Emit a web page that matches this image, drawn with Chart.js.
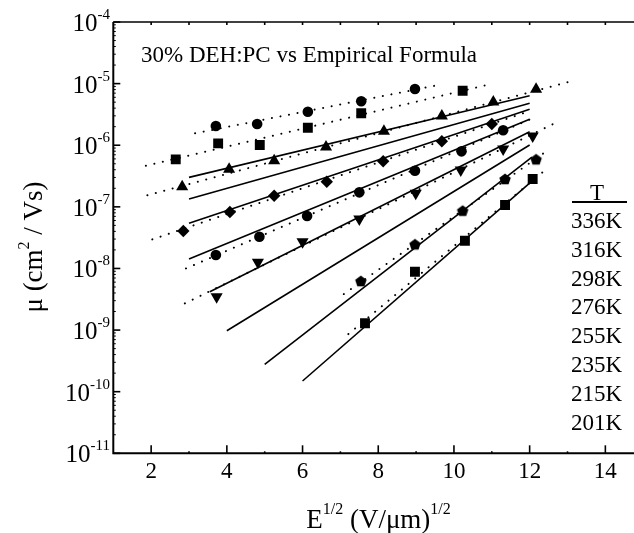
<!DOCTYPE html>
<html>
<head>
<meta charset="utf-8">
<script src="https://cdn.jsdelivr.net/npm/chart.js@4/dist/chart.umd.min.js"></script>
<style>
html,body{margin:0;padding:0;background:#fff;overflow:hidden;width:634px;height:533px;}
#wrap{width:660px;height:533px;}
</style>
</head>
<body>
<div id="wrap"><canvas id="c" width="660" height="533"></canvas></div>
<script>
// ---- data ----
const temps = ['336K','316K','298K','276K','255K','235K','215K','201K'];

const x336 = [3.71, 4.80, 6.14, 7.55, 8.97];
const y336 = [2.05e-6, 2.21e-6, 3.5e-6, 5.16e-6, 8.17e-6];
const x316 = [2.65, 3.77, 4.87, 6.14, 7.55, 10.23];
const y316 = [5.9e-7, 1.07e-6, 1.01e-6, 1.92e-6, 3.3e-6, 7.67e-6];
const x298 = [2.82, 4.06, 5.25, 6.62, 8.15, 9.68, 11.04, 12.17];
const y298 = [2.12e-7, 4.06e-7, 5.6e-7, 9.35e-7, 1.68e-6, 2.98e-6, 5.03e-6, 8.07e-6];
const x276 = [2.85, 4.08, 5.25, 6.64, 8.13, 9.68, 11.0];
const y276 = [4.05e-8, 8.24e-8, 1.51e-7, 2.55e-7, 5.48e-7, 1.16e-6, 2.21e-6];
const x255 = [3.71, 4.86, 6.12, 7.50, 8.97, 10.20, 11.30];
const y255 = [1.65e-8, 3.27e-8, 7.1e-8, 1.72e-7, 3.85e-7, 7.96e-7, 1.75e-6];
const x235 = [3.73, 4.82, 6.00, 7.50, 8.99, 10.18, 11.30, 12.08];
const y235 = [3.47e-9, 1.26e-8, 2.71e-8, 6.34e-8, 1.66e-7, 3.96e-7, 8.68e-7, 1.41e-6];
const x215 = [7.54, 8.97, 10.23, 11.35, 12.17];
const y215 = [6.24e-9, 2.46e-8, 8.65e-8, 2.83e-7, 5.9e-7];
const x201 = [7.65, 8.97, 10.29, 11.35, 12.08];
const y201 = [1.29e-9, 8.85e-9, 2.82e-8, 1.07e-7, 2.83e-7];

// dotted fits to the data (one per temperature)
const dotStartX = [3.16, 1.86, 1.90, 2.03, 2.92, 2.89, 7.09, 7.21];
const dotStartY = [1.56e-6, 4.65e-7, 1.54e-7, 2.96e-8, 1.0e-8, 2.71e-9, 3.84e-9, 8.61e-10];
const dotEndX   = [9.50, 10.87, 13.11, 12.0, 12.06, 12.80, 12.49, 12.36];
const dotEndY   = [9.25e-6, 9.48e-6, 1.10e-5, 3.59e-6, 2.71e-6, 2.50e-6, 8.36e-7, 3.72e-7];

// solid lines: empirical formula
const solStartX = [3.0, 3.0, 3.0, 3.0, 3.55, 4.0, 5.0, 6.0];
const solStartY = [3.01e-7, 1.34e-7, 5.40e-8, 1.42e-8, 4.19e-9, 9.75e-10, 2.77e-10, 1.49e-10];
const solEndX   = [12.0, 12.0, 12.0, 12.0, 12.0, 12.0, 12.06, 12.06];
const solEndY   = [6.37e-6, 4.79e-6, 3.83e-6, 2.63e-6, 1.66e-6, 1.01e-6, 6.43e-7, 2.62e-7];

const xTicks = [2, 4, 6, 8, 10, 12, 14];
const yExps = [-4, -5, -6, -7, -8, -9, -10, -11];

// ---- pentagon marker ----
function pentagon(r) {
  const c = document.createElement('canvas');
  const s = Math.ceil(2 * r + 2);
  c.width = s; c.height = s;
  const g = c.getContext('2d');
  g.fillStyle = '#000';
  g.beginPath();
  for (let i = 0; i < 5; i++) {
    const a = -Math.PI / 2 + i * 2 * Math.PI / 5;
    const px = s / 2 + r * Math.cos(a), py = s / 2 + r * Math.sin(a) + 0.5;
    i ? g.lineTo(px, py) : g.moveTo(px, py);
  }
  g.closePath(); g.fill();
  return c;
}

function pts(xs, ys) { return xs.map((v, i) => ({x: v, y: ys[i]})); }

const markerSets = [
  [x336, y336, 'circle', 5.3, 0],
  [x316, y316, 'rect', 7, 0],
  [x298, y298, 'triangle', 7, 0],
  [x276, y276, 'rectRot', 6.2, 0],
  [x255, y255, 'circle', 5.3, 0],
  [x235, y235, 'triangle', 7, 180],
  [x215, y215, pentagon(6), 6, 0],
  [x201, y201, 'rect', 7, 0]
];

const datasets = [];
markerSets.forEach(([xs, ys, st, r, rot], i) => {
  datasets.push({
    label: temps[i], data: pts(xs, ys), showLine: false,
    pointStyle: st, pointRadius: r, pointRotation: rot,
    backgroundColor: '#000', borderColor: '#000', borderWidth: 0, order: 0
  });
});
temps.forEach((t, i) => {
  datasets.push({
    label: 'fit ' + t,
    data: [{x: dotStartX[i], y: dotStartY[i]}, {x: dotEndX[i], y: dotEndY[i]}],
    showLine: true, pointRadius: 0, borderColor: '#000', borderWidth: 2,
    borderDash: [0.1, 8.6], borderCapStyle: 'round', order: 1
  });
  datasets.push({
    label: 'formula ' + t,
    data: [{x: solStartX[i], y: solStartY[i]}, {x: solEndX[i], y: solEndY[i]}],
    showLine: true, pointRadius: 0, borderColor: '#000', borderWidth: 1.6, order: 1
  });
});

const SERIF = '"Liberation Serif", "DejaVu Serif", serif';

const decor = {
  id: 'decor',
  afterDraw(chart) {
    const {ctx, chartArea: a, scales: {x, y}} = chart;
    ctx.save();
    ctx.strokeStyle = '#000'; ctx.fillStyle = '#000';
    // frame
    ctx.lineWidth = 2;
    ctx.beginPath(); ctx.moveTo(a.left, a.top); ctx.lineTo(a.left, a.bottom); ctx.lineTo(a.right, a.bottom); ctx.stroke();
    ctx.lineWidth = 1.5;
    ctx.beginPath(); ctx.moveTo(a.left, a.top); ctx.lineTo(a.right, a.top); ctx.stroke();
    // x ticks
    ctx.lineWidth = 1.6;
    for (let v = 2; v <= 14; v++) {
      const px = x.getPixelForValue(v);
      const len = v % 2 === 0 ? 8 : 2;
      ctx.beginPath(); ctx.moveTo(px, a.bottom); ctx.lineTo(px, a.bottom - len); ctx.stroke();
      ctx.beginPath(); ctx.moveTo(px, a.top); ctx.lineTo(px, a.top + 3); ctx.stroke();
    }
    // y ticks
    for (let e = -11; e <= -4; e++) {
      const py = y.getPixelForValue(Math.pow(10, e));
      ctx.lineWidth = 1.6;
      ctx.beginPath(); ctx.moveTo(a.left, py); ctx.lineTo(a.left + 7, py); ctx.stroke();
      if (e < -4) {
        ctx.lineWidth = 1;
        for (let m = 2; m <= 9; m++) {
          const q = y.getPixelForValue(m * Math.pow(10, e));
          ctx.beginPath(); ctx.moveTo(a.left, q); ctx.lineTo(a.left + 2.5, q); ctx.stroke();
        }
      }
    }
    // x tick labels
    ctx.font = '23px ' + SERIF; ctx.textAlign = 'center'; ctx.textBaseline = 'middle';
    xTicks.forEach(v => ctx.fillText(String(v), x.getPixelForValue(v), 472));
    // y tick labels 10^e
    yExps.forEach(e => {
      const py = y.getPixelForValue(Math.pow(10, e));
      const sup = '-' + String(-e);
      ctx.font = '15px ' + SERIF; const sw = ctx.measureText(sup).width;
      ctx.font = '25px ' + SERIF; const bw = ctx.measureText('10').width;
      const right = 110;
      ctx.textAlign = 'left'; ctx.textBaseline = 'alphabetic';
      ctx.fillText('10', right - sw - bw, py + 9);
      ctx.font = '15px ' + SERIF;
      ctx.fillText(sup, right - sw, py - 3);
    });
    // in-plot title
    ctx.font = '23px ' + SERIF; ctx.textAlign = 'left'; ctx.textBaseline = 'alphabetic';
    ctx.fillText('30% DEH:PC vs Empirical Formula', 141, 62);
    // T legend
    ctx.textAlign = 'center';
    ctx.fillText('T', 597, 200);
    ctx.lineWidth = 2;
    ctx.beginPath(); ctx.moveTo(572, 202); ctx.lineTo(627, 202); ctx.stroke();
    ctx.textAlign = 'left'; ctx.textBaseline = 'middle';
    temps.forEach((t, i) => ctx.fillText(t, 571, 222 + i * 28.8));
    // x-axis title: E^{1/2} (V/μm)^{1/2}
    const parts = [['E', 27, 0], ['1/2', 16, -14], [' (V/\u03BCm)', 27, 0], ['1/2', 16, -14]];
    let tw = 0;
    parts.forEach(p => { ctx.font = p[1] + 'px ' + SERIF; tw += ctx.measureText(p[0]).width; });
    let cx = 378.5 - tw / 2;
    ctx.textAlign = 'left'; ctx.textBaseline = 'alphabetic';
    parts.forEach(p => { ctx.font = p[1] + 'px ' + SERIF; ctx.fillText(p[0], cx, 528 + p[2]); cx += ctx.measureText(p[0]).width; });
    // y-axis title: μ (cm^2 / Vs)
    const yp = [['\u03BC (cm', 27, 0], ['2', 16, -13], [' / Vs)', 27, 0]];
    let th = 0;
    yp.forEach(p => { ctx.font = p[1] + 'px ' + SERIF; th += ctx.measureText(p[0]).width; });
    ctx.translate(42, 247); ctx.rotate(-Math.PI / 2);
    let cy = -th / 2;
    yp.forEach(p => { ctx.font = p[1] + 'px ' + SERIF; ctx.fillText(p[0], cy, p[2]); cy += ctx.measureText(p[0]).width; });
    ctx.restore();
  }
};

new Chart(document.getElementById('c'), {
  type: 'scatter',
  data: {datasets},
  options: {
    responsive: false, animation: false, devicePixelRatio: 1,
    layout: {padding: {left: 113.3, right: 16.8, top: 22, bottom: 79.7}},
    plugins: {legend: {display: false}, tooltip: {enabled: false}},
    scales: {
      x: {type: 'linear', min: 1, max: 15, display: false},
      y: {type: 'logarithmic', min: 1e-11, max: 1e-4, display: false}
    }
  },
  plugins: [decor]
});
</script>
</body>
</html>
